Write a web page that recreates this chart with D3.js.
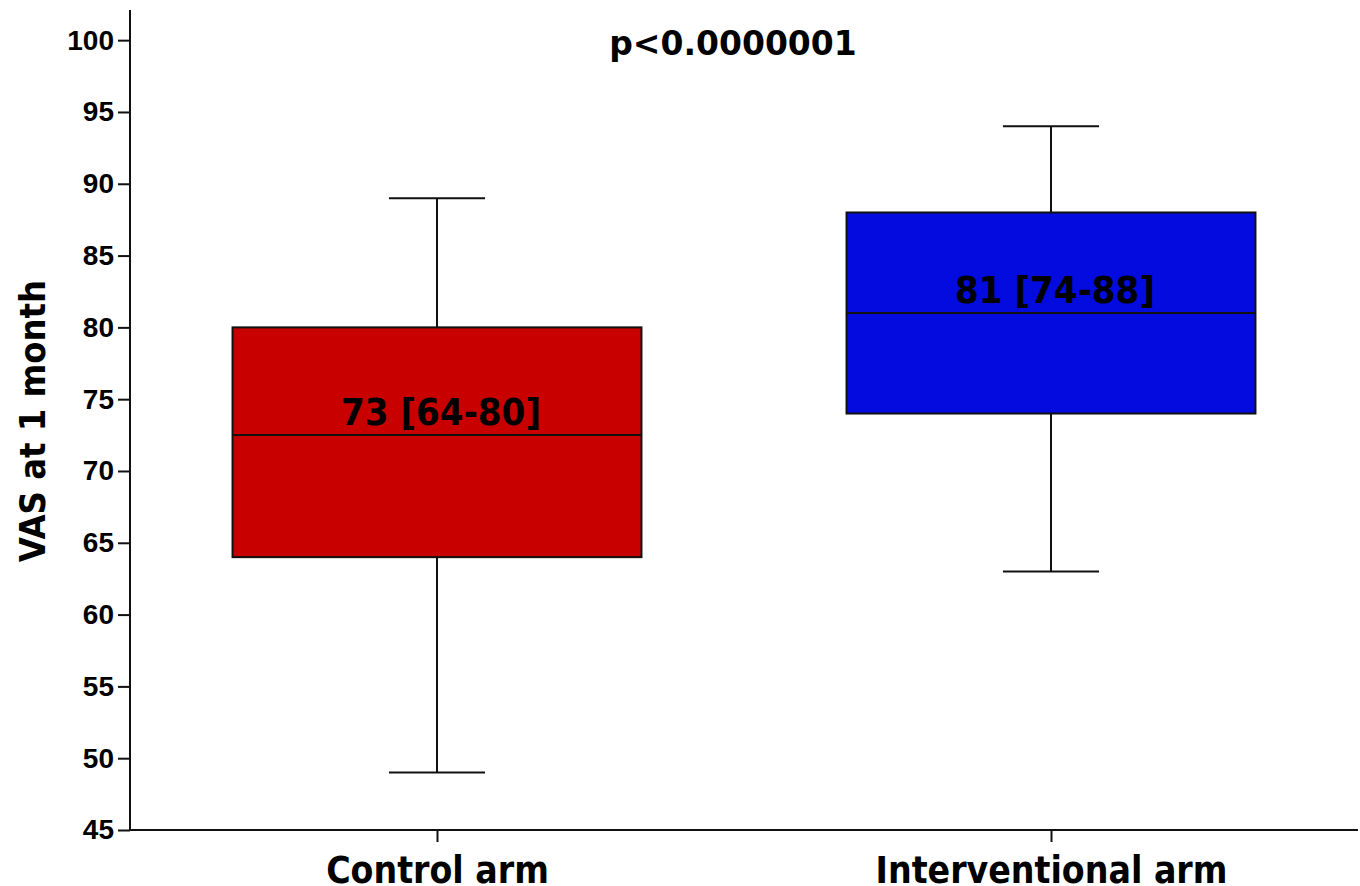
<!DOCTYPE html>
<html>
<head>
<meta charset="utf-8">
<script src="https://cdn.jsdelivr.net/npm/d3@7"></script>
<style>
html,body{margin:0;padding:0;background:#fff;}
svg{display:block;}
</style>
</head>
<body>
<svg id="chart" width="1360" height="886"></svg>
<script>
// ---- data ----
const categories = ["Control arm", "Interventional arm"];
const whiskerLow = [49, 63];
const q1 = [64, 74];
const median = [72.5, 81];
const q3 = [80, 88];
const whiskerHigh = [89, 94];
const boxLabels = ["73 [64-80]", "81 [74-88]"];
const boxColors = ["#C80000", "#030BDE"];
const yTicks = [45, 50, 55, 60, 65, 70, 75, 80, 85, 90, 95, 100];
const yTitle = "VAS at 1 month";
const pText = "p<0.0000001";

(function () {
const svg = d3.select("#chart");
const mLeft = 130, mRight = 1358, mTop = 10, mBottom = 830;

const y = d3.scaleLinear().domain([45, 102.1]).range([mBottom, mTop]);
const x = d3.scalePoint().domain(categories).range([mLeft, mRight]).padding(0.5);
const step = x.step();
const boxW = step * 0.666;
const capW = boxW * 0.235;

const data = categories.map((c, i) => ({
  c, lo: whiskerLow[i], q1: q1[i], med: median[i], q3: q3[i], hi: whiskerHigh[i],
  label: boxLabels[i], color: boxColors[i]
}));

const stroke = "#111";
const g = svg.append("g");

const box = g.selectAll("g.box").data(data).enter().append("g").attr("class", "box");
box.append("line")
  .attr("x1", d => x(d.c)).attr("x2", d => x(d.c))
  .attr("y1", d => y(d.hi)).attr("y2", d => y(d.q3))
  .attr("stroke", stroke).attr("stroke-width", 2);
box.append("line")
  .attr("x1", d => x(d.c)).attr("x2", d => x(d.c))
  .attr("y1", d => y(d.q1)).attr("y2", d => y(d.lo))
  .attr("stroke", stroke).attr("stroke-width", 2);
box.append("line")
  .attr("x1", d => x(d.c) - capW / 2).attr("x2", d => x(d.c) + capW / 2)
  .attr("y1", d => y(d.hi)).attr("y2", d => y(d.hi))
  .attr("stroke", stroke).attr("stroke-width", 2);
box.append("line")
  .attr("x1", d => x(d.c) - capW / 2).attr("x2", d => x(d.c) + capW / 2)
  .attr("y1", d => y(d.lo)).attr("y2", d => y(d.lo))
  .attr("stroke", stroke).attr("stroke-width", 2);
box.append("rect")
  .attr("x", d => x(d.c) - boxW / 2).attr("width", boxW)
  .attr("y", d => y(d.q3)).attr("height", d => y(d.q1) - y(d.q3))
  .attr("fill", d => d.color).attr("stroke", stroke).attr("stroke-width", 2);
box.append("line")
  .attr("x1", d => x(d.c) - boxW / 2).attr("x2", d => x(d.c) + boxW / 2)
  .attr("y1", d => y(d.med)).attr("y2", d => y(d.med))
  .attr("stroke", stroke).attr("stroke-width", 2);
box.append("text")
  .attr("x", d => x(d.c) + 4).attr("y", d => y(d.med) - 10)
  .attr("text-anchor", "middle")
  .style("font-family", "'DejaVu Sans Condensed','DejaVu Sans',sans-serif")
  .style("font-weight", "bold").style("font-size", "38px")
  .attr("fill", "#000")
  .text(d => d.label);

const yAxis = d3.axisLeft(y).tickValues(yTicks).tickSize(12).tickPadding(4).tickSizeOuter(0);
const yg = svg.append("g").attr("transform", `translate(${mLeft},0)`).call(yAxis);
yg.select(".domain").remove();
yg.append("line").attr("x1", 0).attr("x2", 0).attr("y1", mTop).attr("y2", mBottom)
  .attr("stroke", stroke).attr("stroke-width", 2);
yg.selectAll(".tick line").attr("stroke", stroke).attr("stroke-width", 2);
yg.selectAll(".tick text")
  .style("font-family", "'Liberation Sans',Arial,sans-serif")
  .style("font-weight", "bold").style("font-size", "28px").attr("fill", "#000");

const xAxis = d3.axisBottom(x).tickSize(12).tickPadding(0).tickSizeOuter(0);
const xg = svg.append("g").attr("transform", `translate(0,${mBottom})`).call(xAxis);
xg.select(".domain").remove();
xg.append("line").attr("x1", mLeft).attr("x2", mRight).attr("y1", 0).attr("y2", 0)
  .attr("stroke", stroke).attr("stroke-width", 2);
xg.selectAll(".tick line").attr("stroke", stroke).attr("stroke-width", 2);
xg.selectAll(".tick text")
  .attr("y", 53).attr("dy", 0)
  .style("font-family", "'DejaVu Sans Condensed','DejaVu Sans',sans-serif")
  .style("font-weight", "bold").style("font-size", "37px").attr("fill", "#000");

svg.append("text")
  .attr("transform", "translate(45,421) rotate(-90)")
  .attr("text-anchor", "middle")
  .style("font-family", "'DejaVu Sans Condensed','DejaVu Sans',sans-serif")
  .style("font-weight", "bold").style("font-size", "36px")
  .attr("fill", "#000")
  .text(yTitle);

svg.append("text")
  .attr("x", 733).attr("y", 55)
  .attr("text-anchor", "middle")
  .style("font-family", "'DejaVu Sans',Verdana,sans-serif")
  .style("font-weight", "bold").style("font-size", "33px")
  .attr("fill", "#000")
  .text(pText);
})();
</script>
</body>
</html>
